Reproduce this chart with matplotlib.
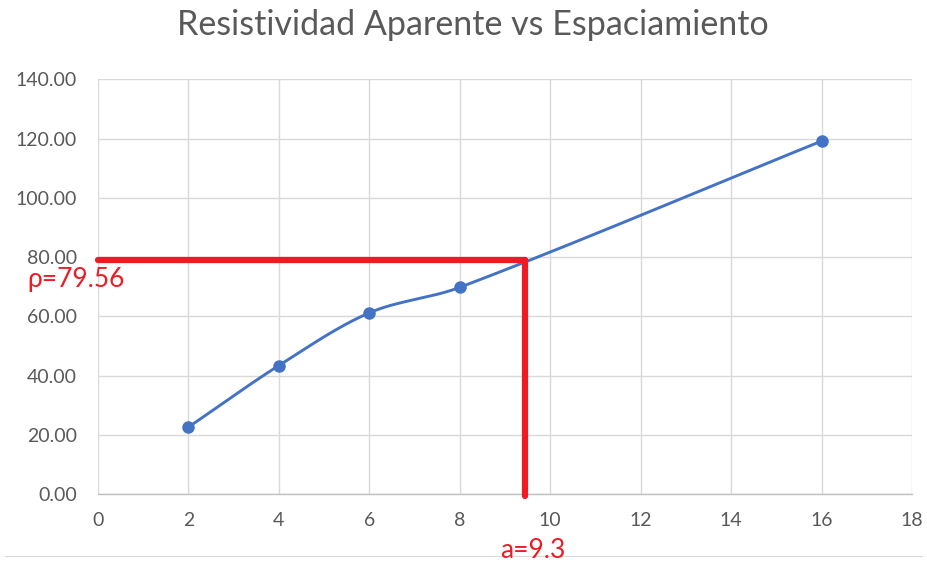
import numpy as np
import matplotlib
matplotlib.use("Agg")
import matplotlib.pyplot as plt

# Data
espaciamiento = [2, 4, 6, 8, 16]
resistividad = [22.6, 43.4, 61.2, 69.8, 119.2]
x_ticks = [0, 2, 4, 6, 8, 10, 12, 14, 16, 18]
y_ticks = [0, 20, 40, 60, 80, 100, 120, 140]
rho_line = 79.0
a_line = 9.45
rho_label = "ρ=79.56"
a_label = "a=9.3"
title = "Resistividad Aparente vs Espaciamiento"

plt.rcParams['font.family'] = ['Lato', 'DejaVu Sans']

# axes pixel scale (for smoothing in screen proportions)
SX = 814 / 18.0
SY = 414.5 / 140.0

def smooth(xs, ys, n=50):
    P = np.column_stack([np.asarray(xs, float) * SX, np.asarray(ys, float) * SY])
    m = len(P)
    tang = []
    for i in range(m):
        if i == 0:
            d = P[1] - P[0]
        elif i == m - 1:
            d = P[-1] - P[-2]
        else:
            d = P[i+1] - P[i-1]
        tang.append(d / np.linalg.norm(d))
    out = []
    for i in range(m - 1):
        p1, p2 = P[i], P[i+1]
        L = np.linalg.norm(p2 - p1)
        c1 = p1 + tang[i] * L / 3.0
        c2 = p2 - tang[i+1] * L / 3.0
        t = np.linspace(0, 1, n)[:, None]
        b = ((1-t)**3)*p1 + 3*((1-t)**2)*t*c1 + 3*(1-t)*t**2*c2 + t**3*p2
        out.append(b if i == 0 else b[1:])
    B = np.vstack(out)
    return B[:, 0] / SX, B[:, 1] / SY

fig = plt.figure(figsize=(9.27, 5.63), dpi=100)
ax = fig.add_axes([0.1057, 0.1225, 0.8781, 0.7363])

ax.set_xlim(0, 18)
ax.set_ylim(0, 140)
ax.set_xticks(x_ticks)
ax.set_yticks(y_ticks)
ax.set_xticklabels([str(v) for v in x_ticks])
ax.set_yticklabels([f"{v:.2f}" for v in y_ticks])
ax.grid(True, color='#d9d9d9', linewidth=1.0)
ax.set_axisbelow(True)
for s in ['top', 'right', 'left']:
    ax.spines[s].set_visible(False)
ax.spines['bottom'].set_color('#bfbfbf')
ax.spines['bottom'].set_linewidth(1.0)
ax.tick_params(axis='both', length=0, labelsize=14, colors='#595959')
ax.tick_params(axis='x', pad=13)
ax.tick_params(axis='y', pad=15)

cx, cy = smooth(espaciamiento, resistividad)
ax.plot(cx, cy, color='#4472C4', linewidth=2.1, zorder=3)
ax.plot(espaciamiento, resistividad, 'o', color='#4472C4', markersize=8, zorder=4)

red = '#ED1C24'
ax.plot([0, a_line], [rho_line, rho_line], color=red, linewidth=4.5, solid_capstyle='round', zorder=5, clip_on=False)
ax.plot([a_line, a_line], [-0.8, rho_line], color=red, linewidth=4.5, solid_capstyle='round', zorder=5, clip_on=False)

fig.text(27/927, 1 - 279/563, rho_label, color=red, fontsize=19, ha='left', va='center')
fig.text(533/927, 1 - 550/563, a_label, color=red, fontsize=19, ha='center', va='center')

fig.text(473/927, 1 - 25/563, title, color='#595959', fontsize=24.5, ha='center', va='center')

fig.add_artist(plt.Line2D([5/927, 922/927], [1 - 556/563, 1 - 556/563], color='#d9d9d9', linewidth=0.8))

fig.savefig("out.png", dpi=100, facecolor='white')
